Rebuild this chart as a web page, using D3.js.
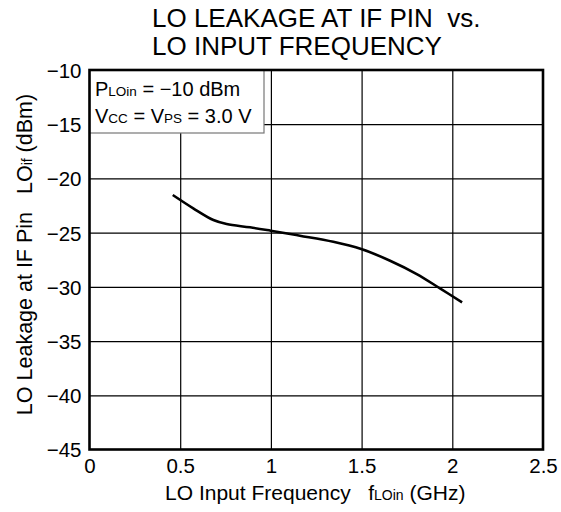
<!DOCTYPE html>
<html><head><meta charset="utf-8">
<script src="https://cdn.jsdelivr.net/npm/d3@7"></script>
<style>
body{margin:0;background:#fff}
svg{display:block}
text{font-family:"Liberation Sans",Arial,Helvetica,sans-serif;fill:#000}
</style></head>
<body><svg id="chart" width="561" height="512"></svg>
<script>
// ---- data ----
const freqGHz = [0.459, 0.572, 0.683, 0.756, 0.885, 0.999, 1.16, 1.344, 1.498, 1.657, 1.804, 1.932, 2.054];
const leakDbm = [-21.53, -22.76, -23.84, -24.21, -24.51, -24.82, -25.28, -25.84, -26.51, -27.59, -28.82, -30.14, -31.43];
const xTickValues = [0, 0.5, 1, 1.5, 2, 2.5];
const xTickLabels = ["0", "0.5", "1", "1.5", "2", "2.5"];
const yTickValues = [-10, -15, -20, -25, -30, -35, -40, -45];
const yTickLabels = ["\u221210", "\u221215", "\u221220", "\u221225", "\u221230", "\u221235", "\u221240", "\u221245"];
const titleLines = ["LO LEAKAGE AT IF PIN\u00A0\u00A0vs.", "LO INPUT FREQUENCY"];

// ---- layout ----
const svg = d3.select("#chart");
const L = 89.5, R = 543, T = 70, B = 449.5;
const x = d3.scaleLinear().domain([0, 2.5]).range([L, R]);
const y = d3.scaleLinear().domain([-45, -10]).range([B, T]);

// title
svg.append("g").selectAll("text").data(titleLines).join("text")
  .attr("x", 152).attr("y", (d, i) => 27 + i * 28)
  .attr("font-size", 26).text(d => d);

// grid
const gx = svg.append("g").attr("transform", `translate(0,${B})`)
  .call(d3.axisBottom(x).tickValues(xTickValues.slice(1, -1)).tickSize(-(B - T)).tickFormat(""));
gx.select(".domain").remove();
gx.selectAll("line").attr("stroke", "#000").attr("stroke-width", 1.2);
const gy = svg.append("g").attr("transform", `translate(${L},0)`)
  .call(d3.axisLeft(y).tickValues(yTickValues.slice(1, -1)).tickSize(-(R - L)).tickFormat(""));
gy.select(".domain").remove();
gy.selectAll("line").attr("stroke", "#000").attr("stroke-width", 1.2);

// tick labels via axes
const ax = svg.append("g").attr("transform", `translate(0,${B})`)
  .call(d3.axisBottom(x).tickValues(xTickValues).tickSize(0).tickPadding(0)
    .tickFormat((d, i) => xTickLabels[i]));
ax.select(".domain").remove();
ax.selectAll("text").attr("font-size", 20.5).attr("dy", 0).attr("y", 23)
  .style("font-family", '"Liberation Sans",Arial,sans-serif');
const ay = svg.append("g").attr("transform", `translate(${L},0)`)
  .call(d3.axisLeft(y).tickValues(yTickValues).tickSize(0).tickPadding(0)
    .tickFormat((d, i) => yTickLabels[i]));
ay.select(".domain").remove();
ay.selectAll("text").attr("font-size", 20.5).attr("x", -8).attr("dy", "0.36em")
  .style("font-family", '"Liberation Sans",Arial,sans-serif');

// legend box
const lg = svg.append("g");
lg.append("rect").attr("x", L).attr("y", T).attr("width", 174.5).attr("height", 63)
  .attr("fill", "#fff").attr("stroke", "#777").attr("stroke-width", 1.2);
const l1 = lg.append("text").attr("x", 95).attr("y", 96).attr("font-size", 20);
l1.append("tspan").text("P");
l1.append("tspan").attr("font-size", 13.5).text("LOin");
l1.append("tspan").text("\u00A0= \u221210 dBm");
const l2 = lg.append("text").attr("x", 95).attr("y", 123).attr("font-size", 20);
l2.append("tspan").text("V");
l2.append("tspan").attr("font-size", 13.5).text("CC");
l2.append("tspan").text("\u00A0= V");
l2.append("tspan").attr("font-size", 13.5).text("PS");
l2.append("tspan").text("\u00A0= 3.0 V");

// curve
const line = d3.line().x((d, i) => x(freqGHz[i])).y(d => y(d)).curve(d3.curveCatmullRom);
svg.append("path").datum(leakDbm).attr("d", line)
  .attr("fill", "none").attr("stroke", "#000").attr("stroke-width", 2.6);

// frame
svg.append("rect").attr("x", L).attr("y", T).attr("width", R - L).attr("height", B - T)
  .attr("fill", "none").attr("stroke", "#000").attr("stroke-width", 2.6);

// axis titles
const xt = svg.append("text").attr("x", (L + R) / 2 - 1).attr("y", 499.5)
  .attr("text-anchor", "middle").attr("font-size", 21);
xt.append("tspan").text("LO Input Frequency\u00A0\u00A0\u00A0f");
xt.append("tspan").attr("font-size", 14).text("LOin");
xt.append("tspan").text(" (GHz)");

const yt = svg.append("text").attr("transform", `translate(32,254.5) rotate(-90)`)
  .attr("text-anchor", "middle").attr("font-size", 21.5);
yt.append("tspan").text("LO Leakage at IF Pin\u00A0\u00A0\u00A0LO");
yt.append("tspan").attr("font-size", 14).text("if");
yt.append("tspan").text(" (dBm)");
</script></body></html>
